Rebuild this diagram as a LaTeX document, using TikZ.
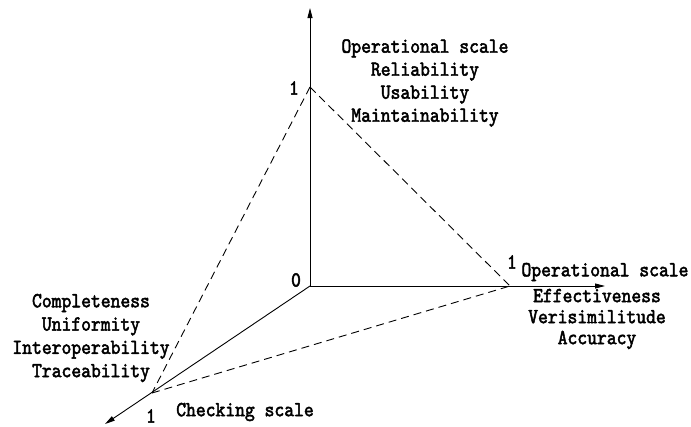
\documentclass[tikz,border=0pt]{standalone}
\usepackage{fontspec}
\newfontfamily\lblfont{lmmono10-regular}[Extension=.otf,FakeBold=2.2,FakeStretch=0.87]
\usetikzlibrary{arrows.meta}
\begin{document}
\begin{tikzpicture}[x=1pt,y=-1pt,
  axis/.style={line width=0.9pt,-{Triangle[length=10pt,width=5pt]}},
  edge/.style={line width=0.9pt,dash pattern=on 8pt off 5pt},
  lbl/.style={font=\fontsize{21.5}{23}\selectfont\lblfont,inner sep=0pt,align=center},
  num/.style={font=\fontsize{21.5}{23}\selectfont\lblfont,inner sep=0pt}]
\useasboundingbox (0,0) rectangle (691,426);
% origin, axis tips and unit points
\coordinate (o) at (310,286);
\coordinate (ytip) at (310,8);
\coordinate (xtip) at (605,286);
\coordinate (ztip) at (105,424);
\coordinate (py) at (310,87);
\coordinate (px) at (510,286);
\coordinate (pz) at (152,393);
% axes
\draw[axis] (o) -- (ytip);
\draw[axis] (o) -- (xtip);
\draw[axis] (o) -- (ztip);
% triangle joining the unit points
\draw[edge] (py) -- (px);
\draw[edge] (py) -- (pz);
\draw[edge] (pz) -- (px);
% tick values
\node[num] (n0) at (296,280) {0};
\node[num] (ny) at (294,88) {1};
\node[num] (nx) at (512,262) {1};
\node[num] (nz) at (151,416) {1};
% scale labels
\node[lbl] (top) at (425,83) {Operational scale\\Reliability\\Usability\\Maintainability};
\node[lbl] (rhead) at (605,272) {Operational scale};
\node[lbl,font=\fontsize{21.5}{21}\selectfont\lblfont] (right) at (597,319) {Effectiveness\\Verisimilitude\\Accuracy};
\node[lbl,font=\fontsize{21.5}{23.3}\selectfont\lblfont] (left) at (91,338) {Completeness\\Uniformity\\Interoperability\\Traceability};
\node[lbl] (check) at (245,412) {Checking scale};
\end{tikzpicture}
\end{document}
